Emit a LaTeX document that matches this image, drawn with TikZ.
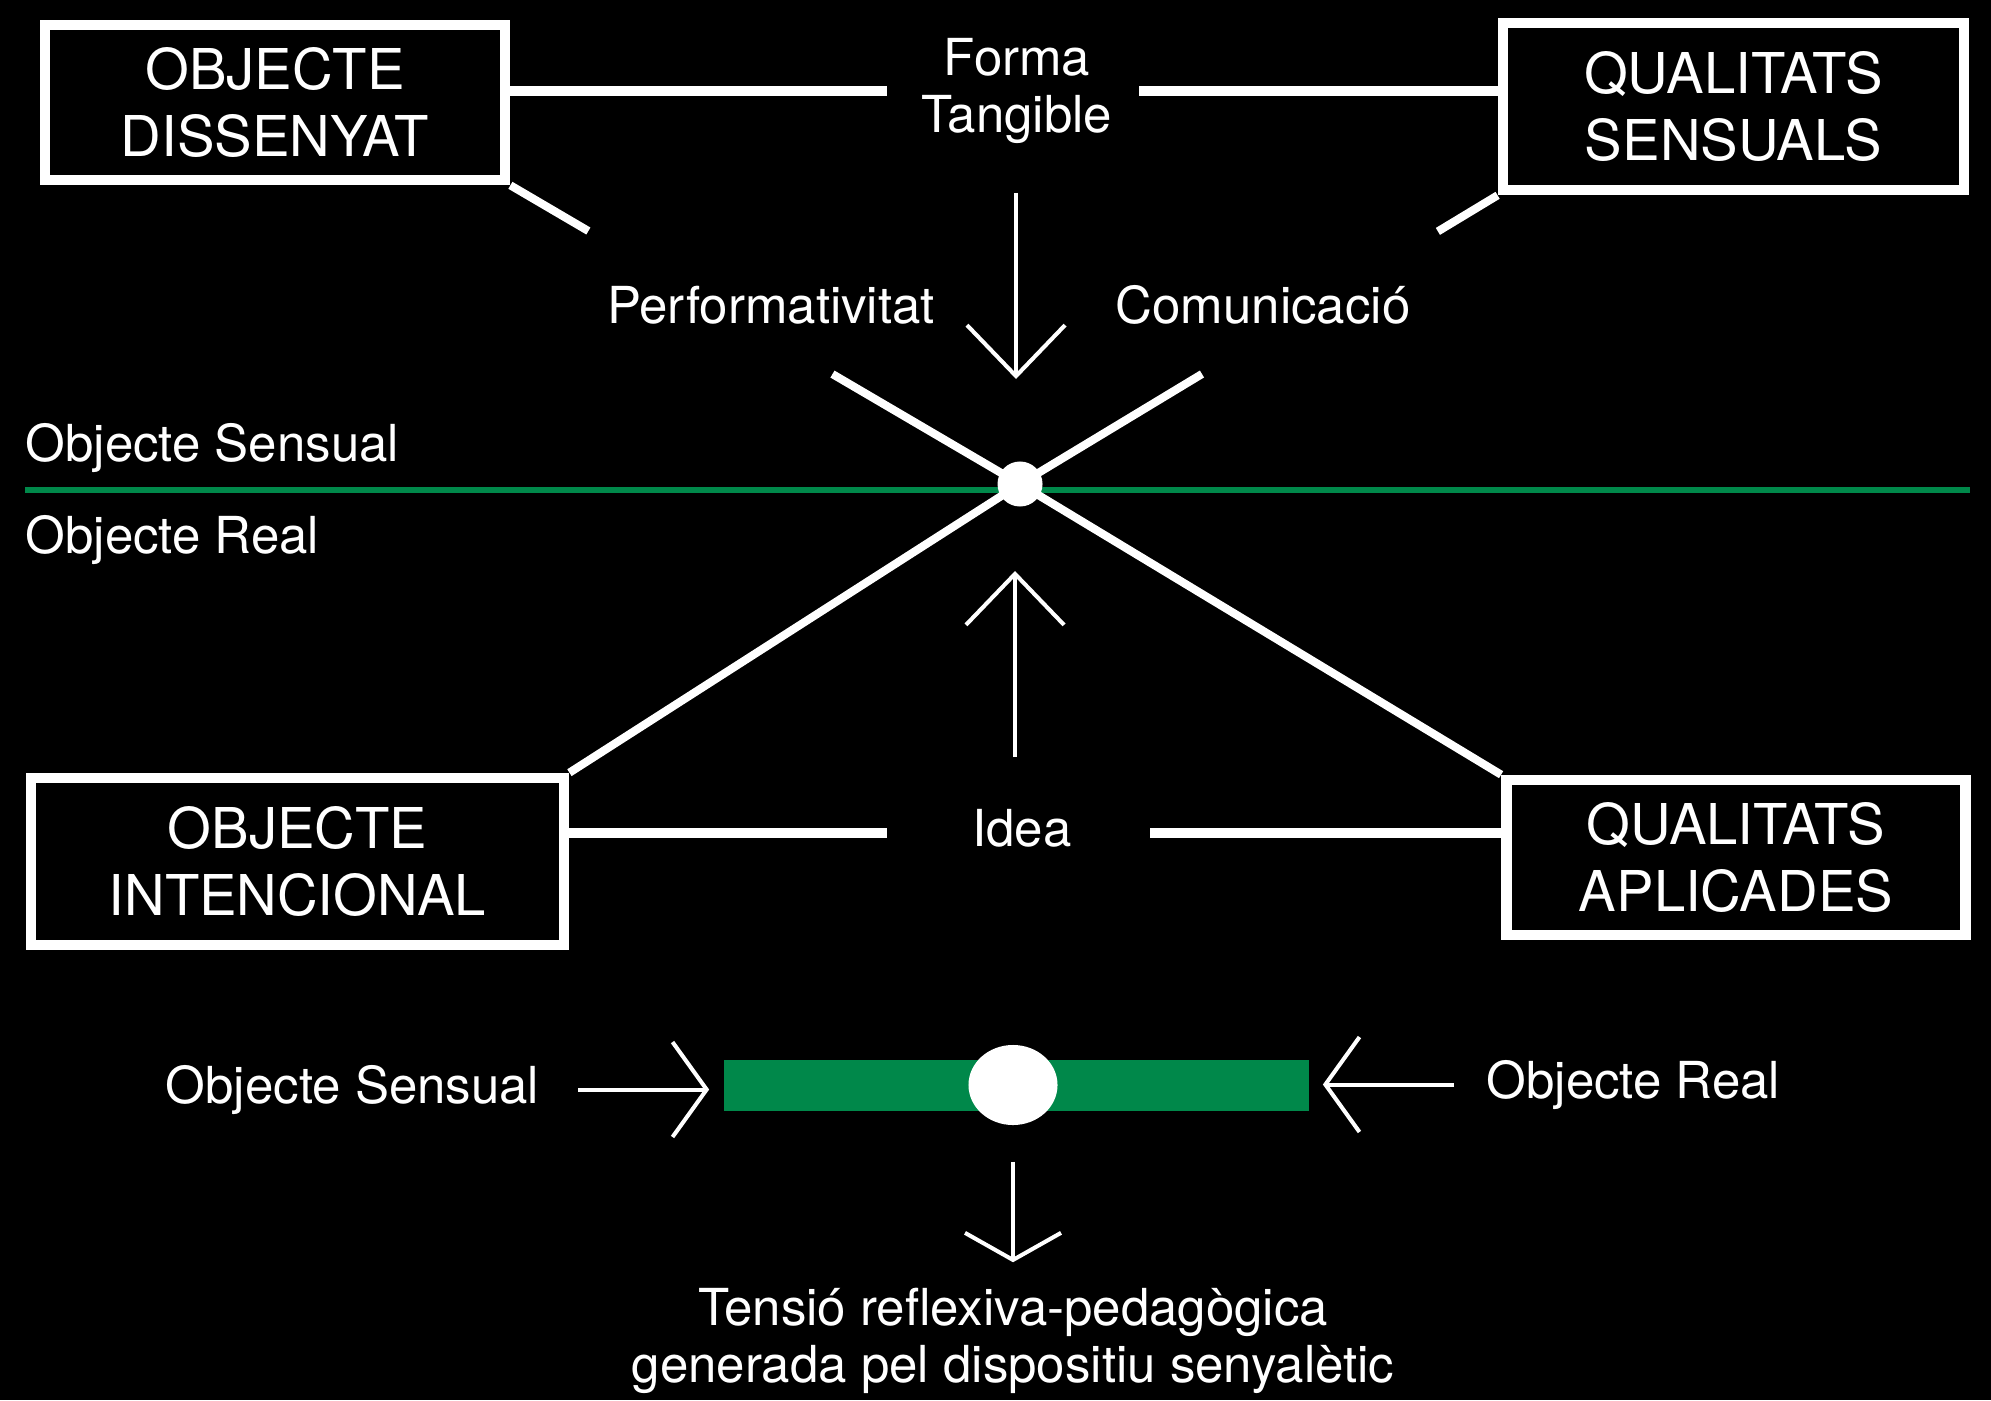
\documentclass[tikz,border=0pt]{standalone}
\usepackage{fontspec}
\setmainfont{TeX Gyre Heros}
\usetikzlibrary{arrows.meta,calc,shapes.geometric}
\definecolor{verd}{RGB}{0,136,74}
\tikzset{
    box/.style={draw=white, line width=3pt, fill=black, align=center, font=\fontsize{16}{19}\selectfont},
    link/.style={white, line width=3pt},
    cross link/.style={white, line width=2.3pt},
    sensual line/.style={verd, line width=1.5pt},
    point/.style={circle, fill=white, minimum size=0.45cm},
    arr/.style={white, line width=1.15pt, -{Straight Barb[length=14.5pt,width=27.9pt]}},
    side arr/.style={white, line width=1.15pt, -{Straight Barb[length=9.7pt,width=27pt]}},
    short arr/.style={white, line width=1.15pt, -{Straight Barb[length=7.7pt,width=27.3pt]}},
}
\tikzstyle{every node}=[font=\fontsize{14.5}{16.4}\selectfont, text=white, inner sep=0pt]

\begin{document}
\begin{tikzpicture}[x=0.01cm, y=-0.01cm]
        \useasboundingbox (0,0) rectangle (1991,1400);
        \fill[black] (0,0) rectangle (1991,1400);

        \node[box, minimum width=4.6cm, minimum height=1.55cm] (od) at (275,102.5) {OBJECTE\\DISSENYAT};
        \node[box, minimum width=4.61cm, minimum height=1.67cm] (qs) at (1733.5,106.5) {QUALITATS\\SENSUALS};
        \node[box, minimum width=5.33cm, minimum height=1.67cm] (oi) at (297.5,861.5) {OBJECTE\\INTENCIONAL};
        \node[box, minimum width=4.59cm, minimum height=1.55cm] (qa) at (1736,857.5) {QUALITATS\\APLICADES};

        \node[align=center] (ft) at (1017,91) {Forma\\Tangible};
        \node[anchor=base] (perf) at (771,323) {Performativitat};
        \node[anchor=base] (com) at (1263,323) {Comunicació};
        \node[anchor=base west] (sens) at (25,461) {Objecte Sensual};
        \node[anchor=base west] (real) at (25,553) {Objecte Real};
        \node[anchor=base] (idea) at (1022,846) {Idea};

        \coordinate (ftL) at (887,91);
        \coordinate (ftR) at (1139,91);
        \coordinate (idL) at (887,833);
        \coordinate (idR) at (1150,833);
        \draw[link] (od.east |- ftL) -- (ftL);
        \draw[link] (ftR) -- (qs.west |- ftR);
        \draw[link] (oi.east |- idL) -- (idL);
        \draw[link] (idR) -- (qa.west |- idR);

        \draw[sensual line] (25,490) -- (1970,490);

        \coordinate (c) at (1020,484);
        \draw[cross link] (od.south east) -- ($(od.south east)!.153!(c)$);
        \draw[cross link] ($(od.south east)!.632!(c)$) -- (c);
        \draw[cross link] (qs.south west) -- ($(qs.south west)!.125!(c)$);
        \draw[cross link] ($(qs.south west)!.619!(c)$) -- (c);
        \draw[cross link] (oi.north east) -- (c) -- (qa.north west);
        \node[point] (dot) at (c) {};

        \coordinate (inTop) at (1016,193);
        \coordinate (inTip) at (1016,379);
        \coordinate (outTop) at (1015,757);
        \coordinate (outTip) at (1015,571);
        \draw[arr] (inTop) -- (inTip);
        \draw[arr] (outTop) -- (outTip);

        \node[fill=verd, minimum width=5.85cm, minimum height=0.51cm] (bar) at (1016.5,1085.5) {};
        \node[ellipse, fill=white, minimum width=0.89cm, minimum height=0.8cm] (tdot) at (1013,1085) {};
        \node[anchor=base east] (ssen) at (540,1103) {Objecte Sensual};
        \node[anchor=base west] (sreal) at (1486,1098) {Objecte Real};
        \draw[side arr] ($(ssen.east)+(38,0)$) -- ($(ssen.east -| bar.west)+(-14,0)$);
        \draw[side arr] ($(sreal.west)+(-32,0)$) -- ($(sreal.west -| bar.east)+(13,0)$);
        \node[align=center] (tens) at (1013,1341) {Tensió reflexiva-pedagògica\\generada pel dispositiu senyalètic};
        \draw[short arr] ($(tdot.south)+(0,36)$) -- ($(tens.north)+(0,-25)$);
\end{tikzpicture}
\end{document}
